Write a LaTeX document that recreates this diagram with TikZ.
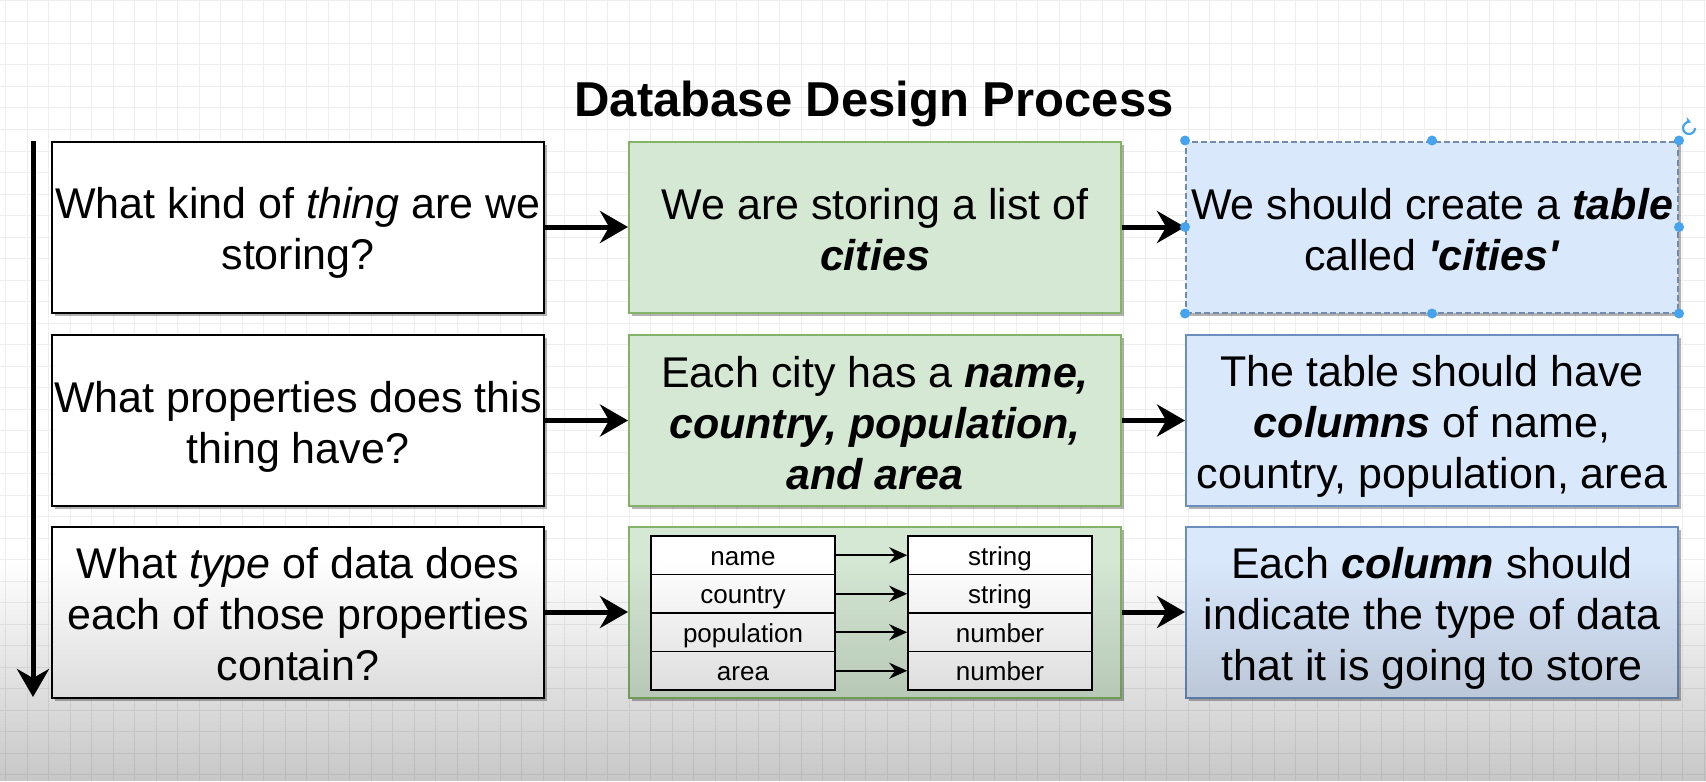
\documentclass[tikz,border=0pt]{standalone}
\usepackage{fontspec}
\setmainfont{Liberation Sans}
\usepackage{tikz}
\usetikzlibrary{arrows.meta,shadows,fadings}
\definecolor{greenf}{HTML}{D5E8D4}
\definecolor{greend}{HTML}{82B366}
\definecolor{bluef}{HTML}{DAE8FC}
\definecolor{blued}{HTML}{6C8EBF}
\definecolor{handc}{RGB}{70,163,238}
\definecolor{gridc}{RGB}{238,238,238}
\newcommand{\bi}[1]{\textbf{\textit{#1}}}
\newcommand{\boxfont}{\fontsize{21.5}{25.5}\selectfont}
\newcommand{\tx}[1]{\rule{0pt}{21.6pt}#1\rule[-3.9pt]{0pt}{0pt}}

\begin{document}
\begin{tikzpicture}[x=.5pt,y=-.5pt,>={Stealth[length=14pt,width=16pt]},
  card/.style={minimum width=246pt,minimum height=85.5pt,align=center,inner sep=0pt,font=\boxfont,line width=1pt,
    drop shadow={shadow xshift=1.5pt,shadow yshift=-1.5pt,opacity=.3,fill=black}},
  ask/.style={card,draw=black,fill=white},
  find/.style={card,draw=greend,fill=greenf},
  plan/.style={card,draw=blued,fill=bluef},
  cell/.style={draw=black,fill=white,line width=.75pt,minimum width=92pt,minimum height=19.25pt,inner sep=0pt,
    text height=12.6pt,text depth=2.5pt,font=\fontsize{13}{15}\selectfont}]
\useasboundingbox (0,0) rectangle (1706,781);
\fill[white] (0,0) rectangle (1706,781);
% grid
\foreach \k in {0,...,79}{\draw[gridc,line width=.5pt] ({5.5+21.5*\k},0) -- ({5.5+21.5*\k},781);}
\foreach \k in {0,...,36}{\draw[gridc,line width=.5pt] (0,{.5+21.5*\k}) -- (1706,{.5+21.5*\k});}
\node[font=\fontsize{24.5}{29}\selectfont\bfseries] (title) at (874,104) {Database Design Process};
% questions, answers, tables
\node[ask] (ask1) at (298,227) {\tx{What kind of \textit{thing} are we\\storing?}};
\node[ask] (ask2) at (298,420.5) {\tx{What properties does this\\thing have?}};
\node[ask] (ask3) at (298,612) {\tx{What \textit{type} of data does\\each of those properties\\contain?}};
\node[find] (find1) at (875,227) {\tx{We are storing a list of\\\bi{cities}}};
\node[find] (find2) at (875,420.5) {\tx{Each city has a \bi{name,}\\\bi{country, population,}\\\bi{and area}}};
\node[find] (find3) at (875,612) {};
\node[plan,draw=blued!70!gray,dash pattern=on 3pt off 1.5pt] (tab1) at (1432,227) {\tx{We should create a \bi{table}\\called \bi{\textquotesingle cities\textquotesingle}}};
\node[plan] (tab2) at (1432,420.5) {\tx{The table should have\\\bi{columns} of name,\\country, population, area}};
\node[plan] (tab3) at (1432,612) {\tx{Each \bi{column} should\\indicate the type of data\\that it is going to store}};
\foreach \r in {1,2,3}{
  \draw[->,line width=2.5pt] (ask\r) -- (find\r);
  \draw[->,line width=2.5pt] (find\r) -- (tab\r);}
% field -> type table
\foreach \i/\f/\t in {1/name/string,2/country/string,3/population/number,4/area/number}{
  \node[cell] (fld\i) at (743,{516.75+38.5*\i}) {\f};
  \node[cell] (typ\i) at (1000,{516.75+38.5*\i}) {\t};
  \draw[->,line width=1pt,>={Stealth[length=9pt,width=8pt]}] (fld\i) -- (typ\i);}
% process arrow
\coordinate (vtop) at (33,141);
\coordinate (vbot) at (33,697);
\draw[->,line width=2.5pt] (vtop) -- (vbot);
% selection handles
\foreach \a in {north west,north,north east,east,south east,south,south west,west}{\fill[handc] (tab1.\a) circle (5);}
\draw[handc,line width=1.1pt,-{Stealth[length=3pt,width=3.5pt]}] (1689,128) ++(0:6) arc[start angle=0,end angle=290,radius=6];
% video shade
\fill[black,opacity=.22,path fading=north] (0,560) rectangle (1706,781);
\end{tikzpicture}
\end{document}
